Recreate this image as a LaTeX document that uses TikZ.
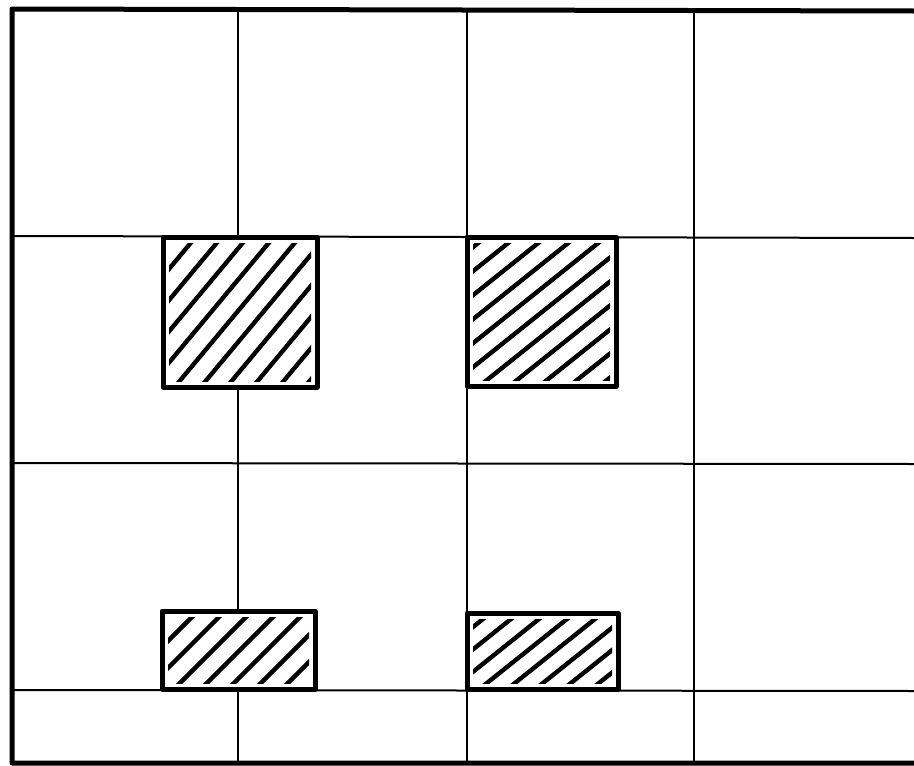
\documentclass[tikz,border=0pt]{standalone}
\begin{document}
\begin{tikzpicture}[x=1pt,y=-1pt,
  outer/.style={line width=5pt,line cap=round,line join=round},
  grid/.style={line width=2pt},
  boxline/.style={line width=5pt,line join=round},
  hatchline/.style={line width=4.4pt,line cap=round}]
\useasboundingbox (0,0) rectangle (914,766);
\fill[white] (0,0) rectangle (914,766);
% grid
\foreach \x in {238,467,694} \draw[grid] (\x,9) -- (\x,763);
\draw[grid] (12,236) -- (914,238);
\draw[grid] (12,463) -- (914,464);
\draw[grid] (12,690) -- (914,691);
% outer frame (right side runs off the picture)
\draw[outer] (914,11) -- (12,9) -- (12,763) -- (914,763);
% hatched boxes: x1 y1 x2 y2 slope spacing
\newcommand\hatchbox[6]{%
  \fill[white] (#1,#2) rectangle (#3,#4);
  \begin{scope}
    \clip (#1+6,#2+6) rectangle (#3-6,#4-6);
    \foreach \i in {-12,...,10}
      \draw[hatchline] ({#1+10+\i*#6},#4+2) -- ++({300/#5},-300);
  \end{scope}
  \draw[boxline] (#1,#2) rectangle (#3,#4);
}
\hatchbox{163}{237}{317}{387}{1.2}{26}
\hatchbox{467}{237}{616}{386}{0.8}{30}
\hatchbox{162}{611}{315}{689}{1.0}{27}
\hatchbox{467}{613}{618}{689}{0.8}{28}
\end{tikzpicture}
\end{document}
